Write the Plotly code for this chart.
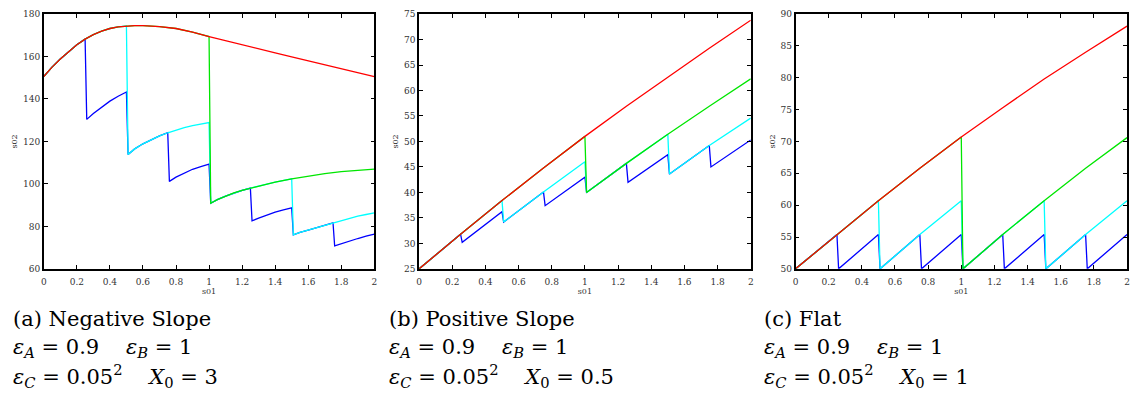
import plotly.graph_objects as go

# ---------------- Panel (a) Negative slope ----------------
a_red_x = [0, 0.05, 0.1, 0.15, 0.2, 0.25, 0.3, 0.35, 0.4, 0.45, 0.5, 0.55, 0.6, 0.65, 0.7, 0.8, 0.9, 1.0,
           1.1, 1.2, 1.3, 1.4, 1.5, 1.6, 1.7, 1.8, 1.9, 2.0]
a_red_y = [150.6, 155.0, 158.8, 162.4, 165.6, 168.2, 170.3, 172.0, 173.2, 174.0, 174.4, 174.6, 174.6, 174.5,
           174.1, 173.2, 171.5, 169.4, 167.4, 165.5, 163.6, 161.7, 159.8, 157.9, 156.0, 154.2, 152.4, 150.5]
a_green_x = [1.01, 1.05, 1.1, 1.15, 1.2, 1.25, 1.3, 1.4, 1.5, 1.6, 1.7, 1.8, 1.9, 2.0]
a_green_y = [90.9, 92.6, 94.3, 95.8, 97.0, 98.0, 99.0, 100.9, 102.4, 103.8, 104.9, 105.8, 106.5, 107.0]
a_cyan1_x = [0.51, 0.55, 0.6, 0.65, 0.7, 0.75, 0.8, 0.85, 0.9, 0.95, 1.0]
a_cyan1_y = [113.9, 116.5, 118.9, 120.9, 122.6, 124.1, 125.4, 126.5, 127.5, 128.3, 128.9]
a_cyan2_x = [1.51, 1.55, 1.6, 1.65, 1.7, 1.75, 1.8, 1.85, 1.9, 1.95, 2.0]
a_cyan2_y = [76.0, 77.2, 78.3, 79.4, 80.6, 81.7, 82.8, 83.8, 84.8, 85.6, 86.4]
a_blue1_x = [0.26, 0.3, 0.35, 0.4, 0.45, 0.5]
a_blue1_y = [130.4, 133.2, 136.3, 139.0, 141.3, 143.3]
a_blue2_x = [0.76, 0.8, 0.85, 0.9, 0.95, 1.0]
a_blue2_y = [101.2, 103.2, 105.2, 106.9, 108.2, 109.3]
a_blue3_x = [1.26, 1.3, 1.35, 1.4, 1.45, 1.5]
a_blue3_y = [82.6, 83.9, 85.4, 86.7, 87.8, 88.7]
a_blue4_x = [1.76, 1.8, 1.85, 1.9, 1.95, 2.0]
a_blue4_y = [70.8, 71.9, 73.1, 74.3, 75.4, 76.4]

# ---------------- Panel (b) Positive slope ----------------
b_red_x = [0, 0.25, 0.5, 0.75, 1.0, 1.25, 1.5, 1.75, 2.0]
b_red_y = [25.0, 31.8, 38.4, 44.8, 51.0, 56.9, 62.6, 68.3, 73.8]
b_green_x = [1.01, 1.25, 1.5, 1.75, 2.0]
b_green_y = [40.0, 45.7, 51.4, 56.9, 62.3]
b_cyan1_x = [0.51, 0.75, 1.0]
b_cyan1_y = [34.2, 40.1, 46.0]
b_cyan2_x = [1.51, 1.75, 2.0]
b_cyan2_y = [43.6, 49.2, 54.6]
b_blue1_x = [0.26, 0.5]
b_blue1_y = [30.2, 36.2]
b_blue2_x = [0.76, 1.0]
b_blue2_y = [37.4, 43.0]
b_blue3_x = [1.26, 1.5]
b_blue3_y = [42.0, 47.4]
b_blue4_x = [1.76, 2.0]
b_blue4_y = [45.0, 50.3]

# ---------------- Panel (c) Flat ----------------
c_red_x = [0, 0.25, 0.5, 0.75, 1.0, 1.25, 1.5, 1.75, 2.0]
c_red_y = [50.0, 55.4, 60.7, 65.8, 70.7, 75.3, 79.8, 84.0, 88.1]
c_green_x = [1.01, 1.25, 1.5, 1.75, 2.0]
c_green_y = [50.0, 55.4, 60.7, 65.8, 70.6]
c_cyan1_x = [0.51, 0.75, 1.0]
c_cyan1_y = [50.0, 55.4, 60.7]
c_cyan2_x = [1.51, 1.75, 2.0]
c_cyan2_y = [50.0, 55.4, 60.7]
c_blue1_x = [0.26, 0.5]
c_blue1_y = [50.0, 55.4]
c_blue2_x = [0.76, 1.0]
c_blue2_y = [50.0, 55.4]
c_blue3_x = [1.26, 1.5]
c_blue3_y = [50.0, 55.4]
c_blue4_x = [1.76, 2.0]
c_blue4_y = [50.0, 55.4]

y_ranges = [[60, 180], [25, 75], [50, 90]]
y_dticks = [20, 5, 5]
captions = ["(a) Negative Slope", "(b) Positive Slope", "(c) Flat"]
x0_labels = ["3", "0.5", "1"]

COL = {"red": "#ff0000", "green": "#00e600", "cyan": "#00ffff", "blue": "#0000ff"}
SERIF = "DejaVu Serif"


def seg(xs, ys, lo, hi):
    pts = [(x, y) for x, y in zip(xs, ys) if lo - 1e-9 <= x <= hi + 1e-9]
    return [p[0] for p in pts], [p[1] for p in pts]


def join(*parts):
    X, Y = [], []
    for px, py in parts:
        X += px
        Y += py
    return X, Y


panels = [
    dict(red=(a_red_x, a_red_y), green=(a_green_x, a_green_y), c1=(a_cyan1_x, a_cyan1_y),
         c2=(a_cyan2_x, a_cyan2_y), b1=(a_blue1_x, a_blue1_y), b2=(a_blue2_x, a_blue2_y),
         b3=(a_blue3_x, a_blue3_y), b4=(a_blue4_x, a_blue4_y)),
    dict(red=(b_red_x, b_red_y), green=(b_green_x, b_green_y), c1=(b_cyan1_x, b_cyan1_y),
         c2=(b_cyan2_x, b_cyan2_y), b1=(b_blue1_x, b_blue1_y), b2=(b_blue2_x, b_blue2_y),
         b3=(b_blue3_x, b_blue3_y), b4=(b_blue4_x, b_blue4_y)),
    dict(red=(c_red_x, c_red_y), green=(c_green_x, c_green_y), c1=(c_cyan1_x, c_cyan1_y),
         c2=(c_cyan2_x, c_cyan2_y), b1=(c_blue1_x, c_blue1_y), b2=(c_blue2_x, c_blue2_y),
         b3=(c_blue3_x, c_blue3_y), b4=(c_blue4_x, c_blue4_y)),
]

W, H = 1139, 396
x_doms = [(41, 373.3), (418.3, 751.7), (796.7, 1130)]
y_dom = (1 - 270.7 / H, 1 - 9.3 / H)
cap_x = [8, 386, 763]

fig = go.Figure()
for i, p in enumerate(panels):
    xa = "x" if i == 0 else f"x{i+1}"
    ya = "y" if i == 0 else f"y{i+1}"
    rx, ry = p["red"]
    gx, gy = p["green"]
    green = join(seg(rx, ry, 0, 1.0), (gx, gy))
    cyan = join(seg(rx, ry, 0, 0.5), p["c1"], seg(gx, gy, 1.0, 1.5), p["c2"])
    blue = join(seg(rx, ry, 0, 0.25), p["b1"], seg(*p["c1"], 0.5, 0.75), p["b2"],
                seg(gx, gy, 1.0, 1.25), p["b3"], seg(*p["c2"], 1.5, 1.75), p["b4"])
    for name, (sx, sy) in [("blue", blue), ("cyan", cyan), ("green", green), ("red", (rx, ry))]:
        fig.add_trace(go.Scatter(x=sx, y=sy, mode="lines", xaxis=xa, yaxis=ya,
                                 line=dict(color=COL[name], width=1.3),
                                 showlegend=False, hoverinfo="skip"))
    axcommon = dict(showline=True, linecolor="black", linewidth=1.5, mirror="ticks",
                    ticks="inside", ticklen=4, tickwidth=1, tickcolor="black",
                    showgrid=False, zeroline=False,
                    tickfont=dict(family=SERIF, size=9, color="#333333"),
                    title_font=dict(family=SERIF, size=8, color="#333333"))
    fig.layout[("xaxis" if i == 0 else f"xaxis{i+1}")] = dict(
        axcommon, domain=[x_doms[i][0] / W, x_doms[i][1] / W], anchor=ya,
        range=[0, 2], dtick=0.2, tick0=0, ticklabelstandoff=4,
        title=dict(text="s01", standoff=1))
    fig.layout[("yaxis" if i == 0 else f"yaxis{i+1}")] = dict(
        axcommon, domain=list(y_dom), anchor=xa,
        range=y_ranges[i], dtick=y_dticks[i], tick0=y_ranges[i][0],
        title=dict(text="s02", standoff=4))

    cf = dict(family=SERIF, size=21, color="black")
    sp = "\u00a0"
    lines = [
        captions[i],
        f"<i>ε</i><sub><i>A</i></sub>{sp}={sp}0.9{sp*4}<i>ε</i><sub><i>B</i></sub>{sp}={sp}1",
        f"<i>ε</i><sub><i>C</i></sub>{sp}={sp}0.05<sup>2</sup>{sp*4}<i>X</i><sub>0</sub>{sp}={sp}{x0_labels[i]}",
    ]
    for j, (txt, yc) in enumerate(zip(lines, [322, 352, 381])):
        fig.add_annotation(text=txt, xref="paper", yref="paper", x=cap_x[i] / W, y=1 - yc / H,
                           xanchor="left", yanchor="middle", showarrow=False, font=cf)

fig.update_layout(width=W, height=H, margin=dict(l=0, r=0, t=0, b=0),
                  paper_bgcolor="white", plot_bgcolor="white")
fig.write_html("out.html")
